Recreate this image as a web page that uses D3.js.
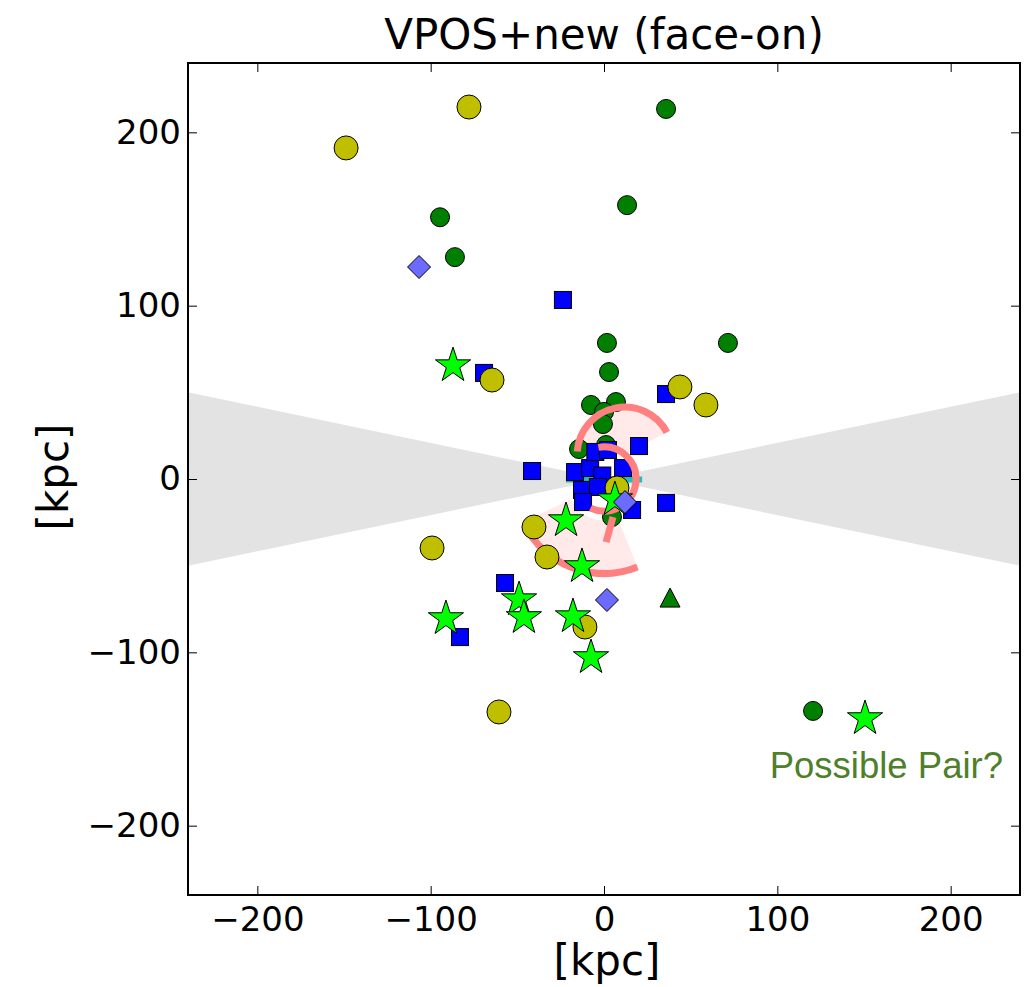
<!DOCTYPE html>
<html>
<head>
<meta charset="utf-8">
<script src="https://cdn.jsdelivr.net/npm/d3@7"></script>
<style>
  body { margin: 0; background: #fff; }
  svg text { font-family: "DejaVu Sans", sans-serif; }
</style>
</head>
<body>
<svg width="1029" height="987"></svg>
<script>
// tick labels on both axes
var tickValues = [-200, -100, 0, 100, 200];

// satellites, [x, y] in kpc
var greenDots = [[35.8,213.5],[13.3,158],[-94.6,151],[-86,128],[71.5,78.5],[1.7,78.5],
  [2.9,61.7],[-7.5,42.7],[6.9,44.4],[0,38.7],[-0.6,31.7],[-14.4,17.3],[1.2,19.6],
  [4.6,-21.9],[120.6,-133.8]];
var oliveDots = [[-77.9,214.6],[-148.8,191],[-64.6,57.1],[43.8,53.1],[58.8,42.7],
  [-99.2,-39.8],[-40.4,-27.7],[-32.9,-45],[-11,-85.4],[-60.6,-134.4],[7.5,-5.2]];
var blueSquares = [[-23.7,103.3],[-69.2,61.2],[35.8,49],[-41.5,4.6],[20.2,19],[35.8,-13.8],
  [-57.1,-60],[-83.1,-91.2],[-16.7,4],[-8,6.3],[11,6.3],[-1,2],[-12.7,-6.3],[-3.5,-4.6],
  [-12.1,-13.3],[16.2,-17.9],[-5,15.6],[2.3,16.7]];
var stars = [[-87.1,66.3],[-91.2,-79.6],[-21.9,-23.1],[-12.7,-49.6],[-49,-68.7],[-46.2,-79],
  [-17.9,-78.5],[-7.5,-102.1],[150.6,-137.3],[6.3,-11]];
var diamonds = [[-106.7,122.3],[1.7,-69.8],[12.1,-13.3]];
var triangles = [[38.1,-68.7]];

// obscured zone half-height at the plot edge (kpc)
var obscuredEdge = [[-240,50],[0,0],[-240,-50],[240,50],[240,-50]];

// pink sectors: centre x, centre y, inner r, outer r, start deg, end deg
var pinkSectors = [[12,14,0,27.5,28,176],[0,-3,21,51.5,205,292]];
// pink arcs: centre x, centre y, r, start deg, end deg
var pinkArcs = [[12,14,27.5,28,176],[0,-3,51.5,213,292],[0,0,18.5,-115,100]];
// pink straight piece
var pinkLine = [[5.2,-21.9],[1.2,-36.4]];
// disk
var diskLine = [[-22,-0.3],[22,-0.3]];

var svg = d3.select('svg');

var scaleX = d3.scaleLinear().domain([-240,240]).range([188,1020]);
var scaleY = d3.scaleLinear().domain([-240,240]).range([895,63]);
var kpc = function(r) { return scaleX(r) - scaleX(0); };

svg.append("defs").append("clipPath").attr("id", "plotClip")
  .append("rect").attr("x", 188).attr("y", 63).attr("width", 832).attr("height", 832);

var plot = svg.append("g").attr("clip-path", "url(#plotClip)");

// grey bow-tie
var wedges = [[obscuredEdge[0], obscuredEdge[1], obscuredEdge[2]],
              [obscuredEdge[3], obscuredEdge[1], obscuredEdge[4]]];
plot.selectAll(".wedge").data(wedges).enter().append("path")
  .attr("class", "wedge")
  .attr("d", function(d) { return "M" + d.map(function(p) { return scaleX(p[0]) + "," + scaleY(p[1]); }).join("L") + "Z"; })
  .attr("fill", "#e3e3e3");

function arcPath(cx, cy, r, a0, a1) {
  var p = d3.path();
  var t0 = -a0 * Math.PI / 180, t1 = -a1 * Math.PI / 180;
  p.arc(scaleX(cx), scaleY(cy), kpc(r), t0, t1, true);
  return p;
}

plot.selectAll(".sector").data(pinkSectors).enter().append("path")
  .attr("class", "sector")
  .attr("d", function(d) {
    var p = d3.path();
    var cx = scaleX(d[0]), cy = scaleY(d[1]);
    var t0 = -d[4] * Math.PI / 180, t1 = -d[5] * Math.PI / 180;
    p.arc(cx, cy, kpc(d[3]), t0, t1, true);
    if (d[2] > 0) p.arc(cx, cy, kpc(d[2]), t1, t0, false);
    else p.lineTo(cx, cy);
    p.closePath();
    return p.toString();
  })
  .attr("fill", "#ffe9e9");

plot.append("line")
  .attr("x1", scaleX(diskLine[0][0])).attr("y1", scaleY(diskLine[0][1]))
  .attr("x2", scaleX(diskLine[1][0])).attr("y2", scaleY(diskLine[1][1]))
  .attr("stroke", "#1fbfbf").attr("stroke-width", 6);

plot.selectAll(".green").data(greenDots).enter().append("circle")
  .attr("class", "green")
  .attr("cx", function(d) { return scaleX(d[0]); })
  .attr("cy", function(d) { return scaleY(d[1]); })
  .attr("r", 9.5)
  .attr("fill", "#007f00").attr("stroke", "#000").attr("stroke-width", 1);

plot.selectAll(".square").data(blueSquares).enter().append("rect")
  .attr("class", "square")
  .attr("x", function(d) { return scaleX(d[0]) - 8.5; })
  .attr("y", function(d) { return scaleY(d[1]) - 8.5; })
  .attr("width", 17).attr("height", 17)
  .attr("fill", "#0000ff").attr("stroke", "#000").attr("stroke-width", 1);

// pink arcs over the crowd
plot.selectAll(".parc").data(pinkArcs).enter().append("path")
  .attr("class", "parc")
  .attr("d", function(d) { return arcPath(d[0], d[1], d[2], d[3], d[4]).toString(); })
  .attr("fill", "none").attr("stroke", "#ff8080").attr("stroke-width", 7);

plot.append("line")
  .attr("x1", scaleX(pinkLine[0][0])).attr("y1", scaleY(pinkLine[0][1]))
  .attr("x2", scaleX(pinkLine[1][0])).attr("y2", scaleY(pinkLine[1][1]))
  .attr("stroke", "#ff8080").attr("stroke-width", 7);

plot.selectAll(".olive").data(oliveDots).enter().append("circle")
  .attr("class", "olive")
  .attr("cx", function(d) { return scaleX(d[0]); })
  .attr("cy", function(d) { return scaleY(d[1]); })
  .attr("r", 12)
  .attr("fill", "#bfbf00").attr("stroke", "#000").attr("stroke-width", 1);

function starPath(R) {
  var pts = [];
  for (var i = 0; i < 10; i++) {
    var r = i % 2 == 0 ? R : R * 0.382;
    var a = -Math.PI / 2 + i * Math.PI / 5;
    pts.push([r * Math.cos(a), r * Math.sin(a)]);
  }
  return "M" + pts.join("L") + "Z";
}

plot.selectAll(".star").data(stars).enter().append("path")
  .attr("class", "star")
  .attr("transform", function(d) { return "translate(" + scaleX(d[0]) + "," + (scaleY(d[1]) + 1.5) + ")"; })
  .attr("d", starPath(18.5))
  .attr("fill", "#00ff00").attr("stroke", "#000").attr("stroke-width", 1);

plot.selectAll(".diamond").data(diamonds).enter().append("path")
  .attr("class", "diamond")
  .attr("transform", function(d) { return "translate(" + scaleX(d[0]) + "," + scaleY(d[1]) + ")"; })
  .attr("d", "M0,-11.5L11.5,0L0,11.5L-11.5,0Z")
  .attr("fill", "#6b6bff").attr("stroke", "#000").attr("stroke-width", 1);

plot.selectAll(".tri").data(triangles).enter().append("path")
  .attr("class", "tri")
  .attr("transform", function(d) { return "translate(" + scaleX(d[0]) + "," + scaleY(d[1]) + ")"; })
  .attr("d", "M0,-10L10,9L-10,9Z")
  .attr("fill", "#007f00").attr("stroke", "#000").attr("stroke-width", 1);

// axes, ticks pointing in
function styleAxis(g) {
  g.select(".domain").remove();
  g.selectAll(".tick line").attr("stroke", "#000").attr("stroke-width", 1);
  g.selectAll("text").attr("font-size", 34).attr("fill", "#000");
}

svg.append("g").attr("transform", "translate(0,895)")
  .call(d3.axisBottom(scaleX).tickValues(tickValues).tickSizeInner(-9).tickSizeOuter(0).tickPadding(12))
  .call(styleAxis);
svg.append("g").attr("transform", "translate(188,0)")
  .call(d3.axisLeft(scaleY).tickValues(tickValues).tickSizeInner(-9).tickSizeOuter(0).tickPadding(7))
  .call(styleAxis);
svg.append("g").attr("transform", "translate(0,63)")
  .call(d3.axisTop(scaleX).tickValues(tickValues).tickSizeInner(-9).tickSizeOuter(0).tickFormat(""))
  .call(styleAxis);
svg.append("g").attr("transform", "translate(1020,0)")
  .call(d3.axisRight(scaleY).tickValues(tickValues).tickSizeInner(-9).tickSizeOuter(0).tickFormat(""))
  .call(styleAxis);

svg.append("rect").attr("x", 188).attr("y", 63).attr("width", 832).attr("height", 832)
  .attr("fill", "none").attr("stroke", "#000").attr("stroke-width", 2);

svg.append("text").attr("x", 604).attr("y", 49).attr("text-anchor", "middle")
  .attr("font-size", 42).text("VPOS+new (face-on)");
svg.append("text").attr("x", 607).attr("y", 975).attr("text-anchor", "middle")
  .attr("font-size", 42).text("[kpc]");
svg.append("text").attr("transform", "translate(68,477) rotate(-90)").attr("text-anchor", "middle")
  .attr("font-size", 42).text("[kpc]");

svg.append("text").attr("x", 1003).attr("y", 778).attr("text-anchor", "end")
  .style("font-family", "'Liberation Sans', Arial, sans-serif")
  .attr("font-size", 36.5).attr("fill", "#4f7f2a").text("Possible Pair?");
</script>
</body>
</html>
